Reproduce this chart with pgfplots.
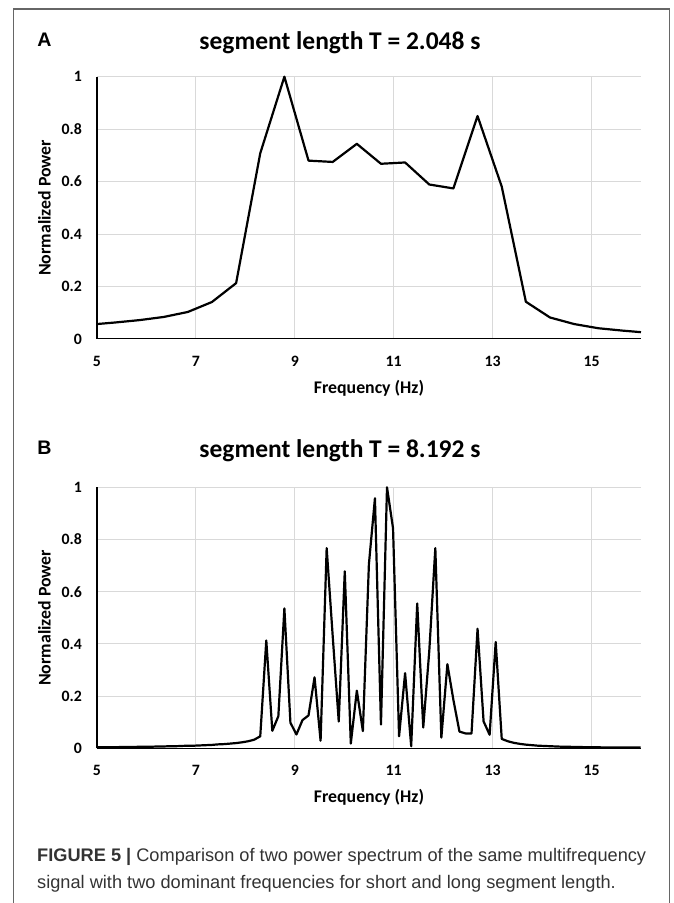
\documentclass[border=0pt]{standalone}
\usepackage{fontspec}
\setmainfont{Carlito}
\newfontfamily\capfont{Liberation Sans}
\usepackage{pgfplots}
\usepackage{pgfplotstable}
\pgfplotsset{compat=1.18}

\pgfplotstableread{
f p
5.000 0.057
5.371 0.063
5.859 0.072
6.348 0.084
6.836 0.103
7.324 0.141
7.813 0.213
8.301 0.708
8.789 1.000
9.277 0.680
9.766 0.675
10.254 0.744
10.742 0.668
11.230 0.673
11.719 0.589
12.207 0.574
12.695 0.850
13.184 0.581
13.672 0.142
14.160 0.082
14.648 0.057
15.137 0.041
15.625 0.032
16.000 0.026
}\dataA

\pgfplotstableread{
f p
5.005 0.004
5.127 0.004
5.249 0.004
5.371 0.004
5.493 0.005
5.615 0.005
5.737 0.005
5.859 0.006
5.981 0.006
6.104 0.006
6.226 0.007
6.348 0.007
6.470 0.008
6.592 0.008
6.714 0.009
6.836 0.010
6.958 0.010
7.080 0.011
7.202 0.012
7.324 0.013
7.446 0.015
7.568 0.016
7.690 0.018
7.813 0.020
7.935 0.023
8.057 0.027
8.179 0.033
8.301 0.046
8.423 0.413
8.545 0.067
8.667 0.123
8.789 0.536
8.911 0.098
9.033 0.053
9.155 0.108
9.277 0.126
9.399 0.272
9.521 0.029
9.644 0.767
9.766 0.430
9.888 0.103
10.010 0.678
10.132 0.018
10.254 0.221
10.376 0.066
10.498 0.705
10.620 0.958
10.742 0.091
10.864 1.000
10.986 0.843
11.108 0.046
11.230 0.288
11.353 0.008
11.475 0.555
11.597 0.080
11.719 0.373
11.841 0.767
11.963 0.041
12.085 0.322
12.207 0.185
12.329 0.064
12.451 0.057
12.573 0.057
12.695 0.458
12.817 0.103
12.939 0.052
13.062 0.407
13.184 0.036
13.306 0.027
13.428 0.021
13.550 0.017
13.672 0.014
13.794 0.012
13.916 0.010
14.038 0.009
14.160 0.008
14.282 0.007
14.404 0.006
14.526 0.006
14.648 0.005
14.771 0.005
14.893 0.004
15.015 0.004
15.137 0.004
15.259 0.003
15.381 0.003
15.503 0.003
15.625 0.003
15.747 0.003
15.869 0.003
15.991 0.003
}\dataB

\pgfplotsset{specstyle/.style={
  scale only axis, width=544pt,
  xmin=5, xmax=16, ymin=0, ymax=1,
  axis x line*=bottom, axis y line*=left,
  axis line style={black, line width=1pt},
  xtick={5,7,9,11,13,15}, xticklabels={5,7,9,11,13,15},
  ytick={0,0.2,0.4,0.6,0.8,1}, yticklabels={0,0.2,0.4,0.6,0.8,1},
  major tick length=0pt,
  grid=major, major grid style={draw=black!15, line width=1pt},
  tick label style={font=\fontsize{15.8}{18}\selectfont\bfseries},
  xticklabel style={anchor=base, yshift=-27.5pt},
  yticklabel style={anchor=east, inner sep=0pt, xshift=-15pt},
  label style={font=\fontsize{17.8}{20}\selectfont\bfseries},
  xlabel={Frequency (Hz)}, ylabel={Normalized Power},
  ylabel style={at={(axis description cs:-0.0851,0.5)}, anchor=base},
  clip=false,
}}

\begin{document}
\begin{tikzpicture}[x=1pt,y=1pt]
\path[use as bounding box] (0,0) rectangle (673,903);
\draw[black!60, line width=1.1pt] (13.3,-5) -- (13.3,894) -- (669.3,894) -- (669.3,-5);

\begin{axis}[specstyle, height=262.3pt, at={(97pt,564pt)}, anchor=south west,
  xlabel style={at={(axis description cs:0.5,-0.2059)}, anchor=base}]
\addplot[black, line width=2.2pt, line join=round] table[x=f,y=p] {\dataA};
\end{axis}

\begin{axis}[specstyle, height=261pt, at={(97pt,154.7pt)}, anchor=south west,
  xlabel style={at={(axis description cs:0.5,-0.2069)}, anchor=base}]
\addplot[black, line width=2.2pt, line join=round] table[x=f,y=p] {\dataB};
\end{axis}

\node[anchor=base, inner sep=0pt, font=\fontsize{25.5}{30}\selectfont\bfseries] at (340,853.5) {segment length T = 2.048 s};
\node[anchor=base, inner sep=0pt, font=\fontsize{25.5}{30}\selectfont\bfseries] at (340,445.5) {segment length T = 8.192 s};
\node[anchor=base, inner sep=0pt, font=\capfont\bfseries\fontsize{19.6}{22}\selectfont] at (44.5,856) {A};
\node[anchor=base, inner sep=0pt, font=\capfont\bfseries\fontsize{19.6}{22}\selectfont] at (44.5,448) {B};

\node[anchor=base west, inner sep=0pt, text=black!80, font=\capfont\fontsize{18.2}{27}\selectfont] at (37,41.6) {\textbf{FIGURE 5 |} Comparison of two power spectrum of the same multifrequency};
\node[anchor=base west, inner sep=0pt, text=black!80, font=\capfont\fontsize{18.2}{27}\selectfont] at (37,15) {signal with two dominant frequencies for short and long segment length.};
\end{tikzpicture}
\end{document}
